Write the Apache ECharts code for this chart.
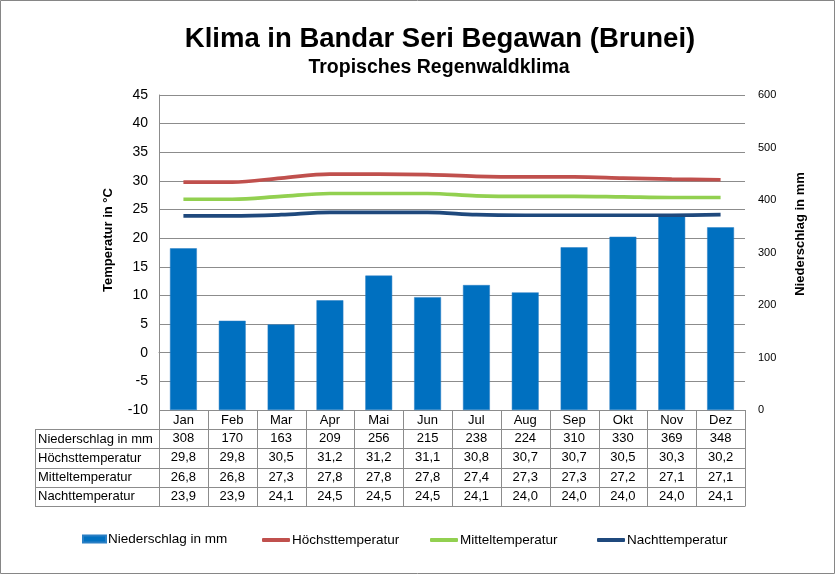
<!DOCTYPE html>
<html>
<head>
<meta charset="utf-8">
<script src="https://cdn.jsdelivr.net/npm/echarts@6/dist/echarts.min.js"></script>
<style>
html,body{margin:0;padding:0;background:#fff;}
#c{width:836px;height:575px;}
</style>
</head>
<body>
<div id="c"></div>
<script>
const months = ['Jan','Feb','Mar','Apr','Mai','Jun','Jul','Aug','Sep','Okt','Nov','Dez'];
const precip = [308,170,163,209,256,215,238,224,310,330,369,348];
const tMax   = [29.8,29.8,30.5,31.2,31.2,31.1,30.8,30.7,30.7,30.5,30.3,30.2];
const tMean  = [26.8,26.8,27.3,27.8,27.8,27.8,27.4,27.3,27.3,27.2,27.1,27.1];
const tNight = [23.9,23.9,24.1,24.5,24.5,24.5,24.1,24.0,24.0,24.0,24.0,24.1];
const seriesNames = ['Niederschlag in mm','Höchsttemperatur','Mitteltemperatur','Nachttemperatur'];
const tempAxis = {min: -10, max: 45, interval: 5};
const precAxis = {min: 0, max: 600, interval: 100};
const titleText = 'Klima in Bandar Seri Begawan (Brunei)';
const subtitleText = 'Tropisches Regenwaldklima';
const leftAxisName = 'Temperatur in °C';
const rightAxisName = 'Niederschlag in mm';

const FONT = '"Liberation Sans", Arial, sans-serif';
const GRID_L = 159, GRID_R = 745, GRID_T = 95, GRID_B = 410;
const ROW_H = 19.2;
const TABLE_L = 35;
const LINE_C = '#8c8c8c';
const LEGEND_LEFT = [82, 262, 430, 597];

const fmtDe = (v, dec) => v.toFixed(dec).replace('.', ',');
const rows = [
  precip.map(v => fmtDe(v, 0)),
  tMax.map(v => fmtDe(v, 1)),
  tMean.map(v => fmtDe(v, 1)),
  tNight.map(v => fmtDe(v, 1))
];

const xAxes = [{
  type: 'category', data: months, position: 'bottom', gridIndex: 0,
  axisLine: {show: true, lineStyle: {color: LINE_C, width: 1}},
  axisTick: {show: false},
  axisLabel: {color: '#000', fontSize: 13, margin: 4, fontFamily: FONT, interval: 0},
  splitLine: {show: false}
}];
rows.forEach((r, k) => {
  xAxes.push({
    type: 'category', data: months, position: 'bottom', gridIndex: 0,
    offset: ROW_H * (k + 1),
    axisLine: {show: false}, axisTick: {show: false}, splitLine: {show: false},
    axisLabel: {color: '#000', fontSize: 13, margin: 3, fontFamily: FONT, interval: 0,
      formatter: (v) => r[months.indexOf(v)]}
  });
});

const graphics = [
  {type: 'rect', shape: {x: 0.5, y: 0.5, width: 834, height: 573}, style: {fill: 'none', stroke: '#868686', lineWidth: 1}, silent: true, z: 0}
];
for (let k = 1; k <= 5; k++) {
  const y = Math.round(GRID_B + ROW_H * k) + 0.5;
  graphics.push({type: 'line', shape: {x1: TABLE_L, y1: y, x2: GRID_R, y2: y}, style: {stroke: LINE_C, lineWidth: 1}, silent: true, z: 10});
}
graphics.push({type: 'line', shape: {x1: TABLE_L + 0.5, y1: Math.round(GRID_B + ROW_H) + 0.5, x2: TABLE_L + 0.5, y2: Math.round(GRID_B + ROW_H * 5) + 0.5}, style: {stroke: LINE_C, lineWidth: 1}, silent: true, z: 10});
seriesNames.forEach((n, k) => {
  graphics.push({type: 'text', x: TABLE_L + 3, y: GRID_B + ROW_H * (k + 1) + ROW_H / 2 + 0.5,
    style: {text: n, fill: '#000', font: '13px ' + FONT, textAlign: 'left', textVerticalAlign: 'middle'}, silent: true, z: 10});
});
graphics.push({type: 'text', x: 108, y: 240, rotation: Math.PI / 2,
  style: {text: leftAxisName, fill: '#000', font: 'bold 13px ' + FONT, textAlign: 'center', textVerticalAlign: 'middle'}, silent: true});
graphics.push({type: 'text', x: 800, y: 234, rotation: Math.PI / 2,
  style: {text: rightAxisName, fill: '#000', font: 'bold 13px ' + FONT, textAlign: 'center', textVerticalAlign: 'middle'}, silent: true});

const legends = seriesNames.map((n, i) => ({
  data: [n], left: LEGEND_LEFT[i], top: i === 0 ? 532 : 533,
  icon: i === 0 ? 'rect' : 'roundRect',
  itemWidth: i === 0 ? 23 : 28, itemHeight: i === 0 ? 7 : 4, padding: 0,
  textStyle: {fontSize: 13.5, color: '#000', fontFamily: FONT, padding: [0, 0, 0, -3]}
}));

const chart = echarts.init(document.getElementById('c'), null, {renderer: 'canvas'});
chart.setOption({
  animation: false,
  backgroundColor: '#fff',
  textStyle: {fontFamily: FONT},
  title: [
    {text: titleText, left: 440, top: 25, textAlign: 'center', padding: 0,
      textStyle: {fontSize: 27.5, fontWeight: 'bold', color: '#000', fontFamily: FONT}},
    {text: subtitleText, left: 439, top: 58, textAlign: 'center', padding: 0,
      textStyle: {fontSize: 19.5, fontWeight: 'bold', color: '#000', fontFamily: FONT}}
  ],
  grid: {left: GRID_L, right: 836 - GRID_R, top: GRID_T, bottom: 575 - GRID_B, containLabel: false},
  legend: legends,
  xAxis: xAxes,
  yAxis: [
    {type: 'value', min: tempAxis.min, max: tempAxis.max, interval: tempAxis.interval, position: 'left',
      axisLine: {show: true, lineStyle: {color: LINE_C}}, axisTick: {show: false},
      axisLabel: {color: '#000', fontSize: 14, margin: 11, fontFamily: FONT},
      splitLine: {show: true, lineStyle: {color: LINE_C, width: 1}}},
    {type: 'value', min: precAxis.min, max: precAxis.max, interval: precAxis.interval, position: 'right',
      axisLine: {show: false}, axisTick: {show: false},
      axisLabel: {color: '#000', fontSize: 11, margin: 13, fontFamily: FONT},
      splitLine: {show: false}}
  ],
  series: [
    {name: seriesNames[0], type: 'bar', xAxisIndex: 0, yAxisIndex: 1, data: precip, barWidth: '55%',
      itemStyle: {color: '#0070c0', borderColor: '#2a7fc4', borderWidth: 0.5}},
    {name: seriesNames[1], type: 'line', xAxisIndex: 0, yAxisIndex: 0, data: tMax, smooth: 0.35, symbol: 'none',
      lineStyle: {color: '#c0504d', width: 3.7}, itemStyle: {color: '#c0504d'}},
    {name: seriesNames[2], type: 'line', xAxisIndex: 0, yAxisIndex: 0, data: tMean, smooth: 0.35, symbol: 'none',
      lineStyle: {color: '#92d050', width: 3.7}, itemStyle: {color: '#92d050'}},
    {name: seriesNames[3], type: 'line', xAxisIndex: 0, yAxisIndex: 0, data: tNight, smooth: 0.35, symbol: 'none',
      lineStyle: {color: '#1f497d', width: 3.7}, itemStyle: {color: '#1f497d'}}
  ],
  graphic: graphics
});

// vertical table cell borders at category boundaries, from the category axis scale
const x0 = chart.convertToPixel({xAxisIndex: 0}, 0);
const x1 = chart.convertToPixel({xAxisIndex: 0}, 1);
const band = x1 - x0;
const vLines = [];
for (let i = 0; i <= months.length; i++) {
  const x = Math.round(x0 - band / 2 + band * i) + 0.5;
  vLines.push({type: 'line', shape: {x1: x, y1: GRID_B, x2: x, y2: Math.round(GRID_B + ROW_H * 5) + 0.5},
    style: {stroke: LINE_C, lineWidth: 1}, silent: true, z: 10});
}
chart.setOption({graphic: graphics.concat(vLines)});
</script>
</body>
</html>
